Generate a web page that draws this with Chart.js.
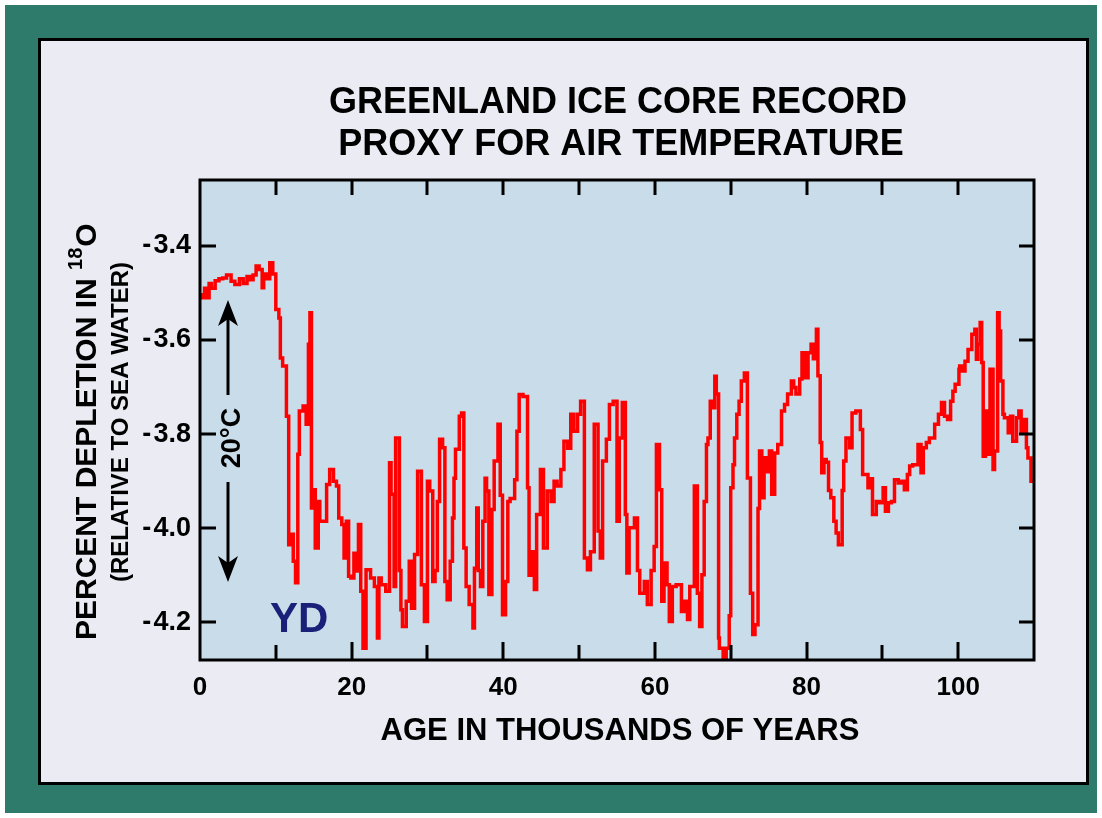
<!DOCTYPE html>
<html>
<head>
<meta charset="utf-8">
<title>Greenland Ice Core Record</title>
<script src="https://cdn.jsdelivr.net/npm/chart.js@4.4.1/dist/chart.umd.min.js"></script>
<style>
    html, body { margin: 0; padding: 0; background: #ffffff; }
    #wrap { width: 1102px; height: 818px; }
</style>
</head>
<body>
<div id="wrap"><canvas id="chart" width="1102" height="818"></canvas></div>
<script>
// age in thousands of years
const ages = [
    0.3, 0.6, 0.9, 1.2, 1.5, 2.0, 2.5, 3.0, 3.5, 4.1, 4.6, 5.2, 5.7, 6.2, 6.6, 7.0, 7.4, 7.8, 8.2, 8.4,
    8.8, 9.2, 9.6, 10.0, 10.4, 10.6, 10.9, 11.4, 11.7, 11.9, 12.3, 12.6, 12.9, 13.1, 13.6, 14.0, 14.3, 14.5, 14.7, 15.0,
    15.2, 15.6, 15.8, 16.2, 16.7, 17.1, 17.6, 18.0, 18.3, 18.7, 19.0, 19.3, 19.6, 19.9, 20.3, 20.6, 20.9, 21.2, 21.5, 21.9,
    22.5, 23.0, 23.4, 23.6, 23.9, 24.5, 25.0, 25.2, 25.6, 25.8, 26.3, 26.5, 26.7, 27.2, 27.6, 27.9, 28.3, 28.7, 29.2, 29.6,
    30.0, 30.3, 30.7, 31.0, 31.3, 31.6, 32.0, 32.3, 32.6, 33.0, 33.3, 33.5, 33.7, 34.2, 34.5, 34.8, 35.1, 35.5, 36.0, 36.2,
    36.5, 36.7, 37.0, 37.3, 37.6, 37.8, 38.1, 38.5, 38.8, 39.3, 39.6, 39.9, 40.3, 40.6, 40.9, 41.5, 41.8, 42.1, 42.6, 43.2,
    43.4, 43.7, 44.1, 44.4, 44.9, 45.3, 45.8, 46.3, 46.7, 47.1, 47.6, 48.0, 48.5, 48.9, 49.3, 49.8, 50.2, 50.7, 51.1, 51.5,
    52.0, 52.5, 52.8, 53.1, 53.6, 54.0, 54.5, 55.0, 55.3, 55.7, 56.1, 56.3, 56.6, 57.3, 57.7, 58.0, 58.6, 59.0, 59.5, 59.9,
    60.2, 60.6, 60.9, 61.2, 61.6, 61.9, 62.3, 62.8, 63.5, 63.9, 64.3, 64.6, 65.2, 65.6, 65.9, 66.2, 66.5, 66.8, 67.0, 67.3,
    67.5, 67.9, 68.1, 68.4, 68.5, 69.0, 69.4, 69.8, 70.0, 70.3, 70.5, 70.8, 71.1, 71.4, 71.8, 72.2, 72.6, 72.9, 73.2, 73.6,
    73.8, 74.1, 74.4, 74.7, 75.1, 75.4, 75.8, 76.2, 76.7, 77.1, 77.5, 78.0, 78.3, 78.6, 79.1, 79.4, 79.8, 80.2, 80.6, 80.9,
    81.3, 81.5, 81.8, 82.0, 82.3, 82.6, 82.9, 83.2, 83.6, 83.9, 84.2, 84.7, 84.9, 85.2, 85.7, 86.0, 86.5, 87.1, 87.4, 87.7,
    88.1, 88.5, 88.7, 89.2, 89.6, 90.1, 90.4, 90.8, 91.2, 91.6, 92.1, 92.5, 92.9, 93.3, 93.6, 94.0, 94.7, 95.1, 95.4, 95.8,
    96.2, 96.9, 97.4, 97.8, 98.2, 98.6, 99.0, 99.3, 99.6, 100.1, 100.2, 100.5, 100.9, 101.3, 101.8, 102.2, 102.4, 102.6, 102.9, 103.1,
    103.3, 103.6, 104.0, 104.2, 104.6, 104.8, 105.2, 105.4, 105.6, 105.9, 106.1, 106.6, 106.9, 107.2, 107.7, 108.0, 108.3, 108.7, 109.0, 109.2,
    109.6, 109.8, 110.0
];

// percent depletion in 18O
const depletion = [
    -3.500, -3.510, -3.490, -3.510, -3.480, -3.490, -3.474, -3.470, -3.468, -3.462, -3.475, -3.482, -3.470, -3.480, -3.465, -3.472, -3.462, -3.443, -3.450, -3.489,
    -3.460, -3.470, -3.436, -3.460, -3.535, -3.553, -3.638, -3.655, -3.762, -4.035, -4.013, -4.070, -4.116, -3.843, -3.751, -3.740, -3.779, -3.609, -3.542, -3.957,
    -3.918, -4.042, -3.943, -3.985, -3.985, -3.907, -3.875, -3.900, -3.910, -3.978, -3.992, -4.063, -3.985, -4.102, -4.106, -4.053, -4.091, -3.992, -4.134, -4.255,
    -4.088, -4.106, -4.124, -4.233, -4.106, -4.120, -4.134, -3.861, -3.928, -4.124, -3.808, -4.090, -4.173, -4.209, -4.155, -4.070, -4.170, -4.056, -3.879, -4.120,
    -4.198, -3.900, -3.921, -4.113, -4.090, -3.943, -3.811, -3.829, -4.113, -4.152, -4.070, -3.978, -3.894, -3.832, -3.762, -3.755, -4.042, -4.124, -4.162, -4.212,
    -4.085, -3.957, -4.090, -4.124, -3.985, -3.894, -3.921, -4.141, -3.960, -3.857, -3.779, -3.930, -4.184, -4.113, -3.943, -3.937, -3.897, -3.794, -3.716, -3.720,
    -3.914, -4.100, -4.050, -4.130, -3.971, -3.875, -4.042, -3.921, -3.943, -3.900, -3.910, -3.875, -3.815, -3.830, -3.758, -3.794, -3.758, -3.730, -4.063, -4.088,
    -4.050, -3.779, -4.006, -4.063, -3.857, -3.811, -3.737, -3.730, -3.985, -3.808, -3.733, -3.971, -4.095, -3.999, -3.978, -4.090, -4.138, -4.113, -4.162, -4.090,
    -4.039, -3.822, -3.918, -4.155, -4.074, -4.120, -4.198, -4.124, -4.120, -4.177, -4.155, -4.194, -4.124, -3.910, -4.138, -4.209, -4.099, -3.943, -3.822, -3.808,
    -3.730, -3.744, -3.677, -3.715, -4.233, -4.255, -4.283, -4.255, -4.186, -3.914, -3.865, -3.808, -3.758, -3.730, -3.687, -3.670, -3.893, -4.138, -4.226, -4.205,
    -3.958, -3.836, -3.935, -3.850, -3.880, -3.836, -3.928, -3.840, -3.822, -3.751, -3.737, -3.715, -3.687, -3.701, -3.715, -3.683, -3.627, -3.680, -3.627, -3.609,
    -3.640, -3.577, -3.676, -3.818, -3.882, -3.854, -3.860, -3.920, -3.935, -3.985, -4.010, -4.035, -3.920, -3.857, -3.808, -3.829, -3.755, -3.751, -3.790, -3.886,
    -3.886, -3.914, -3.895, -3.971, -3.943, -3.946, -3.914, -3.964, -3.946, -3.943, -3.897, -3.904, -3.900, -3.918, -3.886, -3.868, -3.865, -3.822, -3.882, -3.829,
    -3.818, -3.808, -3.779, -3.758, -3.733, -3.762, -3.769, -3.730, -3.709, -3.694, -3.662, -3.655, -3.666, -3.645, -3.620, -3.588, -3.577, -3.641, -3.609, -3.563,
    -3.648, -3.847, -3.751, -3.843, -3.662, -3.875, -3.836, -3.542, -3.581, -3.687, -3.758, -3.765, -3.797, -3.762, -3.815, -3.765, -3.751, -3.797, -3.769, -3.829,
    -3.851, -3.900, -3.900
];

const yTicks = [-3.4, -3.6, -3.8, -4.0, -4.2];
const xTicks = [0, 20, 40, 60, 80, 100];
const xTickMarks = [10, 20, 30, 40, 50, 60, 70, 80, 90, 100];

const FONT = '"Liberation Sans", Arial, Helvetica, sans-serif';

const points = ages.map(function (a, i) { return { x: a, y: depletion[i] }; });

const framePlugin = {
    id: 'frame',
    beforeDraw: function (chart) {
        const ctx = chart.ctx;
        const a = chart.chartArea;
        ctx.save();
        ctx.fillStyle = '#ffffff';
        ctx.fillRect(0, 0, chart.width, chart.height);
        ctx.fillStyle = '#2e7b6b';
        ctx.fillRect(5, 5, 1092, 808);
        ctx.fillStyle = '#ebebf4';
        ctx.fillRect(39, 39, 1049, 745);
        ctx.lineWidth = 3;
        ctx.strokeStyle = '#000000';
        ctx.strokeRect(39.5, 39.5, 1048, 744);
        // plot background
        ctx.fillStyle = '#c8dcea';
        ctx.fillRect(a.left, a.top, a.right - a.left, a.bottom - a.top);
        ctx.restore();
    },
    afterDraw: function (chart) {
        const ctx = chart.ctx;
        const a = chart.chartArea;
        const xs = chart.scales.x;
        const ys = chart.scales.y;
        ctx.save();

        // frame + inward ticks
        ctx.strokeStyle = '#000000';
        ctx.lineWidth = 3;
        ctx.strokeRect(a.left, a.top, a.right - a.left, a.bottom - a.top);
        ctx.beginPath();
        xTickMarks.forEach(function (v) {
            const px = Math.round(xs.getPixelForValue(v));
            const len = (v % 20 === 0) ? 18 : 15;
            ctx.moveTo(px, a.bottom);
            ctx.lineTo(px, a.bottom - len);
            ctx.moveTo(px, a.top);
            ctx.lineTo(px, a.top + 15);
        });
        yTicks.forEach(function (v) {
            const py = Math.round(ys.getPixelForValue(v));
            ctx.moveTo(a.left, py);
            ctx.lineTo(a.left + 16, py);
            ctx.moveTo(a.right, py);
            ctx.lineTo(a.right - 15, py);
        });
        ctx.stroke();

        ctx.fillStyle = '#000000';
        ctx.textBaseline = 'alphabetic';

        // title
        ctx.textAlign = 'center';
        ctx.font = 'bold 36px ' + FONT;
        ctx.fillText('GREENLAND ICE CORE RECORD', 618, 113);
        ctx.fillText('PROXY FOR AIR TEMPERATURE', 621, 155);

        // x axis title
        ctx.font = 'bold 31px ' + FONT;
        ctx.fillText('AGE IN THOUSANDS OF YEARS', 620, 740);

        // y axis title, line 1 with superscript
        ctx.save();
        ctx.translate(96, 640);
        ctx.rotate(-Math.PI / 2);
        ctx.textAlign = 'left';
        ctx.font = 'bold 30px ' + FONT;
        const part1 = 'PERCENT DEPLETION IN ';
        const w1 = ctx.measureText(part1).width;
        ctx.fillText(part1, 0, 0);
        ctx.font = 'bold 20px ' + FONT;
        const w2 = ctx.measureText('18').width;
        ctx.fillText('18', w1, -14);
        ctx.font = 'bold 30px ' + FONT;
        ctx.fillText('O', w1 + w2 + 1, 0);
        ctx.restore();

        // y axis title, line 2
        ctx.save();
        ctx.translate(128, 422);
        ctx.rotate(-Math.PI / 2);
        ctx.textAlign = 'center';
        ctx.font = 'bold 24px ' + FONT;
        ctx.fillText('(RELATIVE TO SEA WATER)', 0, 0);
        ctx.restore();

        // 20°C double arrow
        const ax = 228;
        ctx.lineWidth = 3;
        ctx.beginPath();
        ctx.moveTo(ax, 318);
        ctx.lineTo(ax, 395);
        ctx.moveTo(ax, 482);
        ctx.lineTo(ax, 564);
        ctx.stroke();
        ctx.beginPath();
        ctx.moveTo(ax, 300);
        ctx.lineTo(ax + 10, 326);
        ctx.lineTo(ax, 319);
        ctx.lineTo(ax - 10, 326);
        ctx.closePath();
        ctx.moveTo(ax, 582);
        ctx.lineTo(ax + 10, 556);
        ctx.lineTo(ax, 563);
        ctx.lineTo(ax - 10, 556);
        ctx.closePath();
        ctx.fill();

        ctx.save();
        ctx.translate(240, 438);
        ctx.rotate(-Math.PI / 2);
        ctx.textAlign = 'center';
        ctx.font = 'bold 27px ' + FONT;
        ctx.fillText('20\u00B0C', 0, 0);
        ctx.restore();

        // YD label
        ctx.fillStyle = '#1a1f78';
        ctx.textAlign = 'left';
        ctx.font = 'bold 42px ' + FONT;
        ctx.fillText('YD', 270, 632);

        ctx.restore();
    }
};

const ctx = document.getElementById('chart').getContext('2d');
const chart = new Chart(ctx, {
    type: 'line',
    data: {
        datasets: [{
            label: 'Greenland ice core d18O',
            data: points,
            borderColor: '#ff0000',
            borderWidth: 3.5,
            pointRadius: 0,
            stepped: 'after',
            fill: false
        }]
    },
    options: {
        responsive: false,
        animation: false,
        events: [],
        layout: {
            padding: { left: 0, top: 180, right: 68, bottom: 98 }
        },
        plugins: {
            legend: { display: false },
            title: { display: false },
            tooltip: { enabled: false }
        },
        scales: {
            x: {
                type: 'linear',
                min: 0,
                max: 110,
                afterFit: function (scale) { scale.height = 60; },
                afterBuildTicks: function (scale) {
                    scale.ticks = xTicks.map(function (v) { return { value: v }; });
                },
                grid: { display: false, drawTicks: false },
                border: { display: false },
                ticks: {
                    color: '#000000',
                    padding: 12,
                    maxRotation: 0,
                    autoSkip: false,
                    font: { family: FONT, size: 26, weight: 'bold' }
                }
            },
            y: {
                type: 'linear',
                min: -4.28,
                max: -3.26,
                afterFit: function (scale) { scale.width = 200; },
                afterBuildTicks: function (scale) {
                    scale.ticks = yTicks.map(function (v) { return { value: v }; });
                },
                grid: { display: false, drawTicks: false },
                border: { display: false },
                ticks: {
                    color: '#000000',
                    padding: 9,
                    autoSkip: false,
                    font: { family: FONT, size: 27, weight: 'bold' },
                    // small gap after the minus, as in the original
                    callback: function (v) { return '-\u200A' + Math.abs(v).toFixed(1); }
                }
            }
        }
    },
    plugins: [framePlugin]
});
</script>
</body>
</html>
